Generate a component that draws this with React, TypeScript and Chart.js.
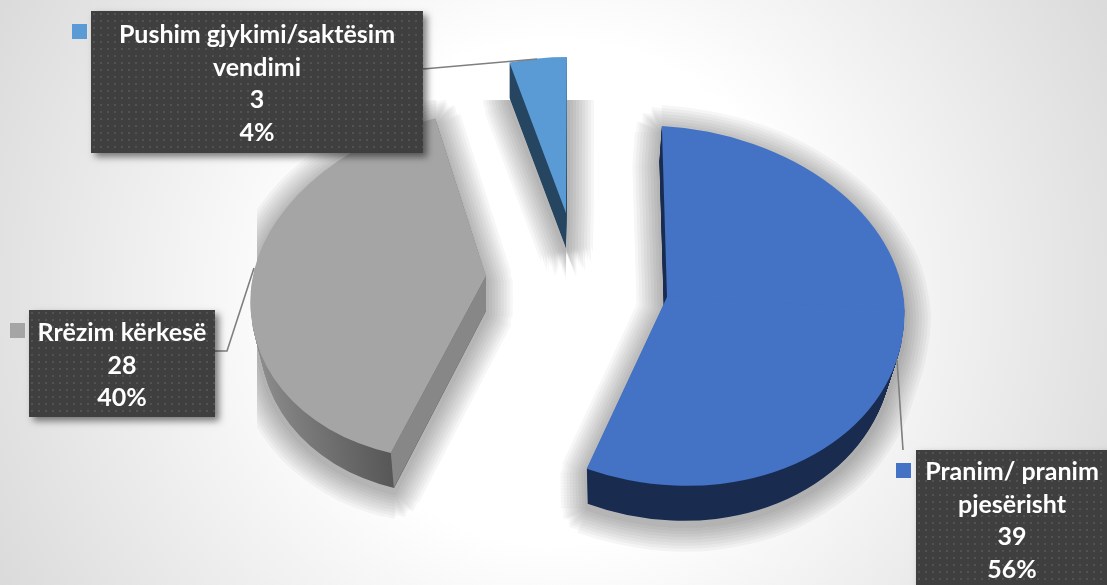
import React, { useEffect, useRef } from "react";
import { Chart, registerables } from "chart.js";

Chart.register(...registerables);

const categories = ["Pranim/ pranim pjesërisht", "Rrëzim kërkesë", "Pushim gjykimi/saktësim vendimi"];
const categoryLines = [["Pranim/ pranim", "pjesërisht"], ["Rrëzim kërkesë"], ["Pushim gjykimi/saktësim", "vendimi"]];
const values = [39, 28, 3];
const faceColors = ["#4472c4", "#a5a5a5", "#5b9bd5"];

// per-slice pseudo-3D projection: apex, x scale, y scales above/below apex, skews, depth
const projections = [
  { ax: 667, ay: 297, sx: 0.99, up: 0.7125, down: 0.785, k: 0.054, c: 0.03, cDown: 0.018, depth: 35, shrink: 0.04, lean: -2.5, wall: ["#203864", "#192c4f"] },
  { ax: 486, ay: 276, sx: 0.98, up: 0.7, down: 0.764, k: -0.064, c: -0.073, cDown: -0.073, depth: 35, shrink: 0.04, lean: 0, wall: ["#8f8f8f", "#525252"] },
  { ax: 566, ay: 213, sx: 0.9, up: 0.65, down: 0.65, k: 0, c: -0.006, cDown: -0.006, depth: 35, shrink: 0, lean: 0, wall: ["#264560", "#264560"] },
];
const boxes = [
  { x: 916, y: 450, w: 195, h: 142, sq: [896, 463], first: 472, leader: [[903, 450], [897, 360]] },
  { x: 29, y: 310, w: 186, h: 107, sq: [10, 323], first: 333, leader: [[215, 351], [227, 351], [254, 268]] },
  { x: 91, y: 11, w: 332, h: 142, sq: [72, 24], first: 35, leader: [[423, 69], [537, 59]] },
];
const LINE_H = 32.5;
const FONT = "bold 25px Lato, Carlito, sans-serif";

function makeDots(ctx: CanvasRenderingContext2D) {
  const c = document.createElement("canvas");
  c.width = 7;
  c.height = 7;
  const g = c.getContext("2d")!;
  g.fillStyle = "#3f3f3f";
  g.fillRect(0, 0, 7, 7);
  g.fillStyle = "#525252";
  g.fillRect(2, 2, 2, 2);
  return ctx.createPattern(c, "repeat")!;
}

function drawSlice(ctx: CanvasRenderingContext2D, arc: any, p: any, d: number, color: any) {
  const saved = arc.options;
  arc.options = { ...saved, backgroundColor: color, borderWidth: 0 };
  const t = d / p.depth;
  const sx = p.sx * (1 - p.shrink * t);
  for (const part of [0, 1]) {
    const sy = part === 0 ? p.up : p.down;
    const skew = part === 0 ? p.c : p.cDown;
    ctx.save();
    ctx.translate(p.ax + p.lean * t, p.ay + d);
    ctx.transform(sx, p.k, skew * sy, sy, 0, 0);
    ctx.beginPath();
    if (part === 0) ctx.rect(-400, -400, 800, 400.6);
    else ctx.rect(-400, -0.6, 800, 400.6);
    ctx.clip();
    ctx.translate(-arc.x, -arc.y);
    arc.draw(ctx);
    ctx.restore();
  }
  arc.options = saved;
}

function project(arc: any, p: any, angle: number) {
  const lx = arc.outerRadius * Math.cos(angle);
  const ly = arc.outerRadius * Math.sin(angle);
  const sy = ly < 0 ? p.up : p.down;
  const skew = ly < 0 ? p.c : p.cDown;
  return [p.ax + p.sx * lx + skew * sy * ly, p.ay + p.k * lx + sy * ly];
}

const pie3d = {
  id: "pie3d",
  beforeDraw(chart: any) {
    const { ctx, width, height } = chart;
    const g = ctx.createRadialGradient(553, 292, 250, 553, 292, 640);
    g.addColorStop(0, "#ffffff");
    g.addColorStop(1, "#d9d9d9");
    ctx.fillStyle = g;
    ctx.fillRect(0, 0, width, height);
  },
  beforeDatasetsDraw(chart: any) {
    const { ctx, width, height } = chart;
    const arcs = chart.getDatasetMeta(0).data;

    // soft shadows: silhouette grown ring by ring, composited faintly, clipped to the plot rectangle
    const off = document.createElement("canvas");
    off.width = width;
    off.height = height;
    const octx = off.getContext("2d")!;
    arcs.forEach((arc: any, i: number) => {
      for (let d = projections[i].depth; d >= 0; d -= 3) {
        drawSlice(octx, arc, projections[i], d, "#000000");
      }
    });
    ctx.save();
    ctx.beginPath();
    ctx.rect(257, 100, 700, 485);
    ctx.clip();
    for (let r = 3; r <= 27; r += 3) {
      const fat = document.createElement("canvas");
      fat.width = width;
      fat.height = height;
      const fctx = fat.getContext("2d")!;
      for (let a = 0; a < 16; a++) {
        const t = (a / 16) * Math.PI * 2;
        fctx.drawImage(off, Math.cos(t) * r, Math.sin(t) * r);
      }
      ctx.globalAlpha = 0.03;
      ctx.drawImage(fat, 0, 4);
    }
    ctx.restore();

    arcs.forEach((arc: any, i: number) => {
      const p = projections[i];
      const wall = ctx.createLinearGradient(arc.x - 240, 0, i === 1 ? arc.x - 70 : arc.x - 100, 0);
      wall.addColorStop(0, p.wall[0]);
      wall.addColorStop(1, p.wall[1]);
      for (let d = p.depth; d >= 1; d--) drawSlice(ctx, arc, p, d, wall);
      // visible cut face of the grey slice
      if (i === 1) {
        const q = project(arc, p, arc.startAngle);
        ctx.fillStyle = "#878787";
        ctx.beginPath();
        ctx.moveTo(p.ax, p.ay);
        ctx.lineTo(q[0], q[1]);
        ctx.lineTo(q[0] + 3, q[1] + p.depth);
        ctx.lineTo(p.ax, p.ay + p.depth);
        ctx.closePath();
        ctx.fill();
      }
      drawSlice(ctx, arc, p, 0, faceColors[i]);
    });
    return false;
  },
  afterDraw(chart: any) {
    const { ctx } = chart;
    const total = values.reduce((a, b) => a + b, 0);
    const dots = makeDots(ctx);
    boxes.forEach((b, i) => {
      // leader
      ctx.strokeStyle = "#7f7f7f";
      ctx.lineWidth = 1.6;
      ctx.beginPath();
      b.leader.forEach((pt, j) => (j ? ctx.lineTo(pt[0], pt[1]) : ctx.moveTo(pt[0], pt[1])));
      ctx.stroke();
      // box
      ctx.save();
      ctx.shadowColor = "rgba(0,0,0,0.5)";
      ctx.shadowBlur = 7;
      ctx.shadowOffsetX = 4;
      ctx.shadowOffsetY = 4;
      ctx.fillStyle = "#3f3f3f";
      ctx.fillRect(b.x, b.y, b.w, b.h);
      ctx.restore();
      ctx.save();
      ctx.translate(b.x, b.y);
      ctx.fillStyle = dots;
      ctx.fillRect(0, 0, b.w, b.h);
      ctx.restore();
      // legend key
      ctx.fillStyle = faceColors[i];
      ctx.fillRect(b.sq[0], b.sq[1], 15, 15);
      // text
      const lines = [...categoryLines[i], String(values[i]), Math.round((values[i] / total) * 100) + "%"];
      const cx = i === 0 ? 1012 : b.x + b.w / 2;
      ctx.fillStyle = "#ffffff";
      ctx.font = FONT;
      ctx.textAlign = "center";
      ctx.textBaseline = "middle";
      lines.forEach((t, j) => ctx.fillText(t, cx, b.first + j * LINE_H));
    });
  },
};

export default function App() {
  const ref = useRef<HTMLCanvasElement>(null);
  useEffect(() => {
    const chart = new Chart(ref.current!, {
      type: "pie",
      data: {
        labels: categories,
        datasets: [{ data: values, backgroundColor: faceColors, borderWidth: 0 }],
      },
      options: {
        responsive: false,
        animation: false,
        radius: 240,
        layout: { padding: 0 },
        plugins: { legend: { display: false }, tooltip: { enabled: false } },
      } as any,
      plugins: [pie3d as any],
    });
    return () => chart.destroy();
  }, []);
  return (
    <canvas
      ref={ref}
      width={1107}
      height={585}
      style={{ position: "fixed", left: 0, top: 0, width: 1107, height: 585, display: "block" }}
    />
  );
}
